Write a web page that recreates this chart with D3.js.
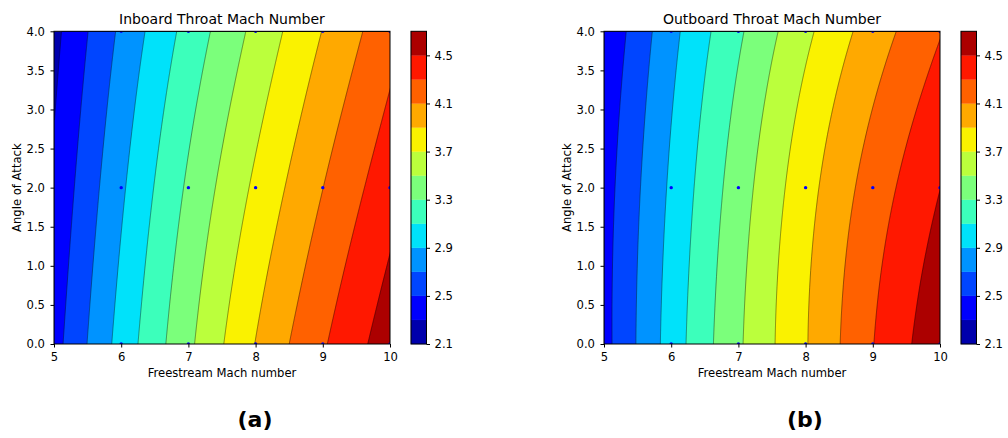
<!DOCTYPE html>
<html>
<head>
<meta charset="utf-8">
<script src="https://cdn.jsdelivr.net/npm/d3@7"></script>
<style>
  body { margin: 0; background: #fff; }
  svg { display: block; }
  text { font-family: "DejaVu Sans", sans-serif; }
</style>
</head>
<body>
<svg id="fig" width="1008" height="438"></svg>
<script>
// Throat Mach number on the (freestream Mach, angle of attack) grid.
// Rows follow alphaGrid, columns follow machGrid.
const machGrid = [5, 6, 7, 8, 9, 10];
const alphaGrid = [0, 2, 4];
const inboardValues = [
  [2.428, 2.978, 3.461, 3.909, 4.280, 4.611],
  [2.340, 2.871, 3.335, 3.741, 4.101, 4.423],
  [2.247, 2.743, 3.174, 3.557, 3.909, 4.231]
];
const outboardValues = [
  [2.436, 2.990, 3.473, 3.889, 4.297, 4.642],
  [2.417, 2.938, 3.406, 3.826, 4.192, 4.500],
  [2.329, 2.841, 3.270, 3.657, 3.997, 4.290]
];
// Simulated cases shown as dots
const sampleMach = [6, 7, 8, 9, 10];
const sampleAlpha = [0, 2, 4];
// Contour levels and tick labels
const levels = [2.1, 2.3, 2.5, 2.7, 2.9, 3.1, 3.3, 3.5, 3.7, 3.9, 4.1, 4.3, 4.5, 4.7];
const colorbarTicks = [2.1, 2.5, 2.9, 3.3, 3.7, 4.1, 4.5];
const xTicks = [5, 6, 7, 8, 9, 10];
const yTicks = [0, 0.5, 1, 1.5, 2, 2.5, 3, 3.5, 4];

const panels = [
  { title: "Inboard Throat Mach Number", values: inboardValues, tag: "(a)", left: 54 },
  { title: "Outboard Throat Mach Number", values: outboardValues, tag: "(b)", left: 604 }
];

// matplotlib "jet" colormap
function jet(t) {
  const seg = (pts) => {
    for (let i = 1; i < pts.length; i++) {
      if (t <= pts[i][0]) {
        const [x0, y0] = pts[i - 1], [x1, y1] = pts[i];
        return y0 + (y1 - y0) * (t - x0) / (x1 - x0);
      }
    }
    return pts[pts.length - 1][1];
  };
  const r = seg([[0, 0], [0.35, 0], [0.66, 1], [0.89, 1], [1, 0.5]]);
  const g = seg([[0, 0], [0.125, 0], [0.375, 1], [0.64, 1], [0.91, 0], [1, 0]]);
  const b = seg([[0, 0.5], [0.11, 1], [0.34, 1], [0.65, 0], [1, 0]]);
  return d3.rgb(r * 255, g * 255, b * 255).formatHex();
}
const nBands = levels.length - 1;
const bandColors = d3.range(nBands).map(k => jet((k + 0.5) / nBands));

// natural cubic spline through (xs, ys)
function naturalSpline(xs, ys) {
  const n = xs.length;
  const h = d3.range(n - 1).map(i => xs[i + 1] - xs[i]);
  const a = new Array(n).fill(0), b = new Array(n).fill(1), c = new Array(n).fill(0), d = new Array(n).fill(0);
  for (let i = 1; i < n - 1; i++) {
    a[i] = h[i - 1]; b[i] = 2 * (h[i - 1] + h[i]); c[i] = h[i];
    d[i] = 6 * ((ys[i + 1] - ys[i]) / h[i] - (ys[i] - ys[i - 1]) / h[i - 1]);
  }
  for (let i = 1; i < n; i++) {
    const m = a[i] / b[i - 1];
    b[i] -= m * c[i - 1]; d[i] -= m * d[i - 1];
  }
  const M = new Array(n).fill(0);
  M[n - 1] = d[n - 1] / b[n - 1];
  for (let i = n - 2; i >= 0; i--) M[i] = (d[i] - c[i] * M[i + 1]) / b[i];
  return x => {
    const i = Math.min(n - 2, Math.max(0, d3.bisectRight(xs, x) - 1));
    const t = x - xs[i], u = xs[i + 1] - x, hi = h[i];
    return M[i] * u * u * u / (6 * hi) + M[i + 1] * t * t * t / (6 * hi)
      + (ys[i] / hi - M[i] * hi / 6) * u + (ys[i + 1] / hi - M[i + 1] * hi / 6) * t;
  };
}

// smooth surface: spline along Mach, quadratic through the three alpha rows
function surface(values) {
  const rows = values.map(row => naturalSpline(machGrid, row));
  const [a0, a1, a2] = alphaGrid;
  return (m, al) => {
    const l0 = (al - a1) * (al - a2) / ((a0 - a1) * (a0 - a2));
    const l1 = (al - a0) * (al - a2) / ((a1 - a0) * (a1 - a2));
    const l2 = (al - a0) * (al - a1) / ((a2 - a0) * (a2 - a1));
    return l0 * rows[0](m) + l1 * rows[1](m) + l2 * rows[2](m);
  };
}

const svg = d3.select("#fig");
const plotW = 336, plotTop = 31.3, plotBottom = 344;
const FS = 11.6;

panels.forEach((p, pi) => {
  const x = d3.scaleLinear().domain([5, 10]).range([p.left, p.left + plotW]);
  const y = d3.scaleLinear().domain([0, 4]).range([plotBottom, plotTop]);
  const g = svg.append("g");

  const clipId = "clip" + pi;
  svg.append("clipPath").attr("id", clipId)
    .append("rect").attr("x", p.left).attr("y", plotTop).attr("width", plotW).attr("height", plotBottom - plotTop);

  // sample the surface on a fine grid
  const nx = 340, ny = 316;
  const f = surface(p.values);
  const grid = new Float64Array(nx * ny);
  for (let j = 0; j < ny; j++) {
    const al = 4 - j * 4 / (ny - 1);
    for (let i = 0; i < nx; i++) {
      grid[j * nx + i] = f(5 + i * 5 / (nx - 1), al);
    }
  }
  const contours = d3.contours().size([nx, ny]).thresholds(levels.slice(0, nBands))(grid);
  const proj = d3.geoTransform({
    point(px, py) { this.stream.point(x(5 + px * 5 / (nx - 1)), y(4 - py * 4 / (ny - 1))); }
  });
  const path = d3.geoPath(proj);

  const cg = g.append("g").attr("clip-path", `url(#${clipId})`);
  cg.selectAll("path.band").data(contours).join("path")
    .attr("class", "band")
    .attr("d", path)
    .attr("fill", (c, k) => bandColors[k])
    .attr("stroke", (c, k) => bandColors[k])
    .attr("stroke-width", 0.3);
  cg.selectAll("path.line").data(contours.slice(1)).join("path")
    .attr("class", "line")
    .attr("d", path)
    .attr("fill", "none")
    .attr("stroke", "#000")
    .attr("stroke-opacity", 0.75)
    .attr("stroke-width", 0.55);

  // simulated cases
  const pts = [];
  sampleAlpha.forEach(a => sampleMach.forEach(m => pts.push([m, a])));
  cg.selectAll("circle").data(pts).join("circle")
    .attr("cx", d => x(d[0])).attr("cy", d => y(d[1])).attr("r", 1.7)
    .attr("fill", "#0000ff");

  // frame
  g.append("rect").attr("x", p.left).attr("y", plotTop).attr("width", plotW).attr("height", plotBottom - plotTop)
    .attr("fill", "none").attr("stroke", "#000").attr("stroke-width", 1);

  // axes
  const xa = g.append("g").attr("transform", `translate(0,${plotBottom})`)
    .call(d3.axisBottom(x).tickValues(xTicks).tickFormat(d3.format("d")).tickSize(3.5).tickPadding(5.5));
  const ya = g.append("g").attr("transform", `translate(${p.left},0)`)
    .call(d3.axisLeft(y).tickValues(yTicks).tickFormat(d3.format(".1f")).tickSize(3.5).tickPadding(5.5));
  [xa, ya].forEach(a => {
    a.select(".domain").remove();
    a.selectAll("text").attr("font-size", FS).attr("fill", "#000").attr("font-family", "DejaVu Sans, sans-serif");
    a.selectAll("line").attr("stroke", "#000");
  });

  // labels
  g.append("text").attr("x", p.left + plotW / 2).attr("y", 24).attr("text-anchor", "middle")
    .attr("font-size", 14).text(p.title);
  g.append("text").attr("x", p.left + plotW / 2).attr("y", 377).attr("text-anchor", "middle")
    .attr("font-size", FS).text("Freestream Mach number");
  g.append("text").attr("transform", `translate(${p.left - 33.5},${(plotTop + plotBottom) / 2}) rotate(-90)`)
    .attr("text-anchor", "middle").attr("font-size", FS).text("Angle of Attack");
  g.append("text").attr("x", p.left + 201).attr("y", 427).attr("text-anchor", "middle")
    .attr("font-size", 22).attr("font-weight", "bold").text(p.tag);

  // colorbar
  const cbx = p.left + 357, cbw = 15.5;
  const cy = d3.scaleLinear().domain([levels[0], levels[levels.length - 1]]).range([plotBottom, plotTop]);
  const bands = d3.range(nBands).map(k => [levels[k], levels[k + 1]]);
  g.selectAll("rect.cb").data(bands).join("rect").attr("class", "cb")
    .attr("x", cbx).attr("width", cbw)
    .attr("y", d => cy(d[1])).attr("height", d => cy(d[0]) - cy(d[1]))
    .attr("fill", (d, k) => bandColors[k])
    .attr("stroke", (d, k) => bandColors[k]).attr("stroke-width", 0.3);
  g.append("rect").attr("x", cbx).attr("y", plotTop).attr("width", cbw).attr("height", plotBottom - plotTop)
    .attr("fill", "none").attr("stroke", "#000").attr("stroke-width", 1);
  const ca = g.append("g").attr("transform", `translate(${cbx + cbw},0)`)
    .call(d3.axisRight(cy).tickValues(colorbarTicks).tickFormat(d3.format(".1f")).tickSize(3.5).tickPadding(4.5));
  ca.select(".domain").remove();
  ca.selectAll("text").attr("font-size", FS).attr("fill", "#000").attr("font-family", "DejaVu Sans, sans-serif");
  ca.selectAll("line").attr("stroke", "#000");
});
</script>
</body>
</html>
